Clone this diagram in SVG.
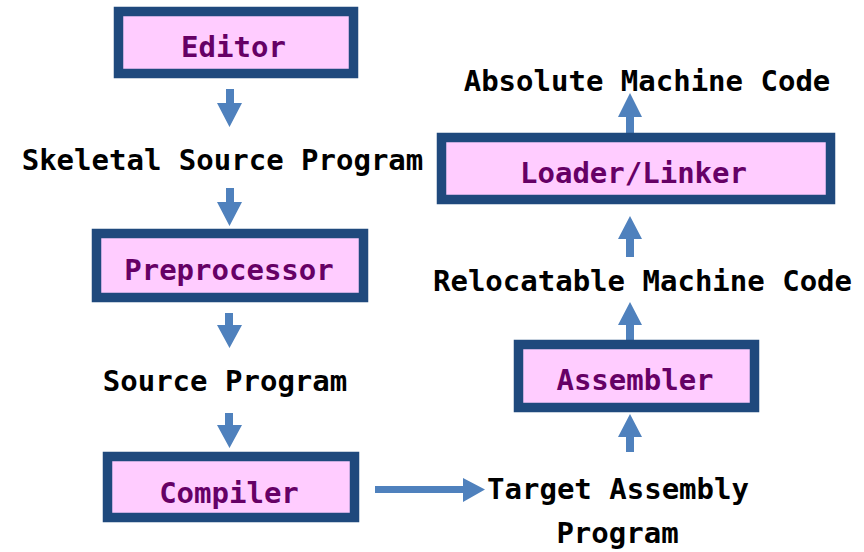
<svg xmlns="http://www.w3.org/2000/svg" width="864" height="552" viewBox="0 0 864 552">
  <style>
    .box { fill: #FFCCFF; stroke: #1F497D; stroke-width: 9.5; }
    .name { font-family: "DejaVu Sans Mono", "Liberation Mono", monospace; font-size: 29px; font-weight: bold; fill: #660066; text-anchor: middle; }
    .label { font-family: "DejaVu Sans Mono", "Liberation Mono", monospace; font-size: 29px; font-weight: bold; fill: #000000; text-anchor: middle; }
    .arrow { fill: #4F81BD; stroke: none; }
  </style>
  <rect width="864" height="552" fill="#FFFFFF"/>

  <!-- flow connectors (block arrows) -->
  <g id="connectors">
    <!-- left column, pointing down -->
    <path class="arrow" d="M226 89 H234 V103 H242 L229.5 127 L217 103 H226 Z"/>
    <path class="arrow" d="M226 188 H234 V202 H242 L229.5 226 L217 202 H226 Z"/>
    <path class="arrow" d="M225 313 H233 V325 H242 L229.5 348 L217 325 H225 Z"/>
    <path class="arrow" d="M225 413 H233 V425 H242 L229.5 448 L217 425 H225 Z"/>
    <!-- compiler to target assembly, pointing right -->
    <path class="arrow" d="M375 486 H463 V478 L485 489.5 L463 502 V493 H375 Z"/>
    <!-- right column, pointing up -->
    <path class="arrow" d="M626 452 H634 V437 H642 L630 414 L618 437 H626 Z"/>
    <path class="arrow" d="M626 341 H634 V325 H642 L630 302 L618 325 H626 Z"/>
    <path class="arrow" d="M626 257 H634 V239 H642 L630 216 L618 239 H626 Z"/>
    <path class="arrow" d="M626 133 H634 V117 H642 L630 93 L618 117 H626 Z"/>
  </g>

  <!-- process boxes -->
  <g id="editor">
    <rect class="box" x="118.5" y="11.5" width="235" height="62"/>
    <text class="name" x="233.5" y="57">Editor</text>
  </g>
  <g id="preprocessor">
    <rect class="box" x="96.5" y="233.5" width="267" height="64"/>
    <text class="name" x="229" y="280">Preprocessor</text>
  </g>
  <g id="compiler">
    <rect class="box" x="107.5" y="456.5" width="247" height="61"/>
    <text class="name" x="229" y="503">Compiler</text>
  </g>
  <g id="assembler">
    <rect class="box" x="518.5" y="344.5" width="236" height="63"/>
    <text class="name" x="635" y="390">Assembler</text>
  </g>
  <g id="loader-linker">
    <rect class="box" x="441.5" y="137.5" width="389" height="62"/>
    <text class="name" x="633.5" y="183">Loader/Linker</text>
  </g>

  <!-- intermediate products -->
  <g id="skeletal-source">
    <text class="label" x="222.5" y="170">Skeletal Source Program</text>
  </g>
  <g id="source-program">
    <text class="label" x="225" y="391">Source Program</text>
  </g>
  <g id="target-assembly">
    <text class="label" x="618" y="499">Target Assembly</text>
    <text class="label" x="617.5" y="543">Program</text>
  </g>
  <g id="relocatable-code">
    <text class="label" x="642.5" y="291">Relocatable Machine Code</text>
  </g>
  <g id="absolute-code">
    <text class="label" x="647" y="91">Absolute Machine Code</text>
  </g>
</svg>
